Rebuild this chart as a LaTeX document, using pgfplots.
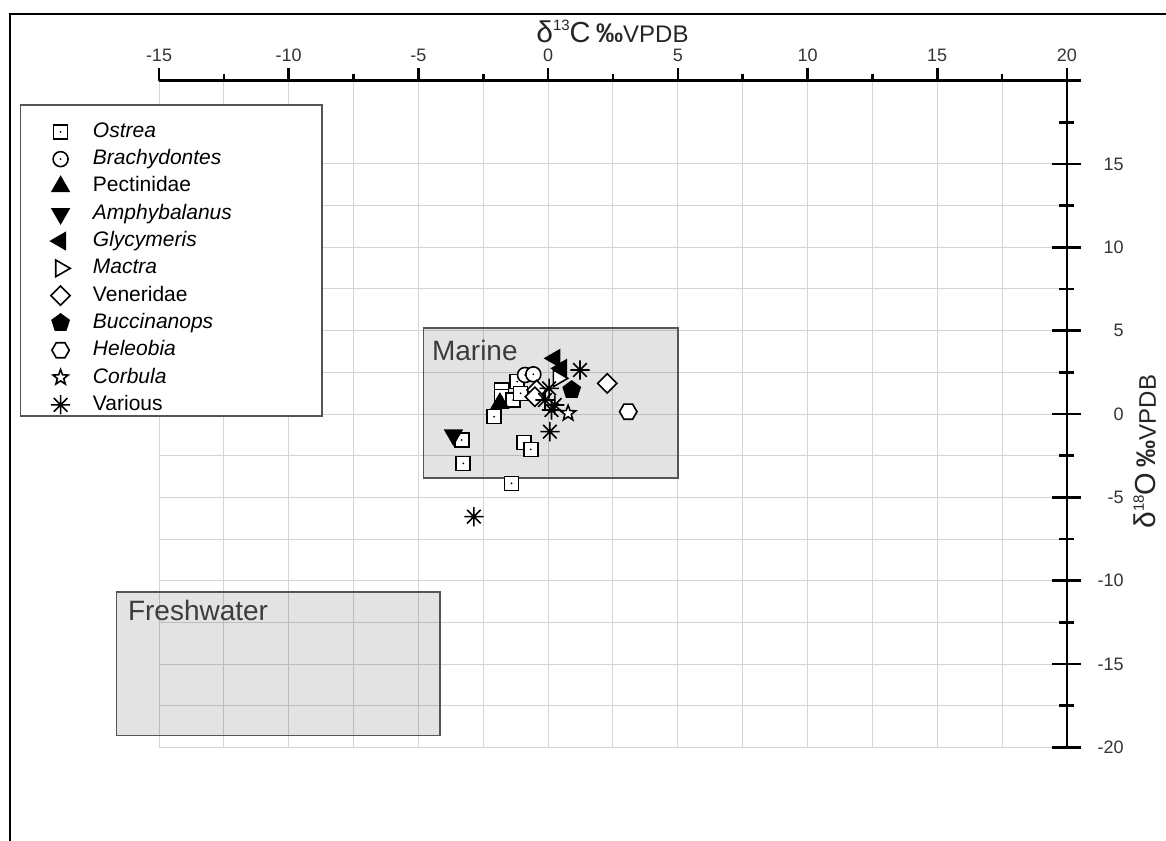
\documentclass[border=0pt]{standalone}
\usepackage{fontspec}
\setmainfont{Liberation Sans}
\usepackage{pgfplots}
\pgfplotsset{compat=1.18}
\usetikzlibrary{plotmarks}

% open square with a centre dot
\pgfdeclareplotmark{sqdot}{%
  \pgfpathrectangle{\pgfpoint{-\pgfplotmarksize}{-\pgfplotmarksize}}{\pgfpoint{2\pgfplotmarksize}{2\pgfplotmarksize}}%
  \pgfusepath{fill,stroke}%
  \begin{pgfscope}\pgfsetfillcolor{black}%
  \pgfpathcircle{\pgfpointorigin}{0.5pt}\pgfusepath{fill}\end{pgfscope}}
% open circle with a centre dot
\pgfdeclareplotmark{cdot}{%
  \pgfpathcircle{\pgfpointorigin}{\pgfplotmarksize}%
  \pgfusepath{fill,stroke}%
  \begin{pgfscope}\pgfsetfillcolor{black}%
  \pgfpathcircle{\pgfpointorigin}{0.5pt}\pgfusepath{fill}\end{pgfscope}}
% hexagon
\pgfdeclareplotmark{hexa}{%
  \pgfpathmoveto{\pgfpointpolar{0}{\pgfplotmarksize}}%
  \pgfpathlineto{\pgfpointpolar{60}{\pgfplotmarksize}}%
  \pgfpathlineto{\pgfpointpolar{120}{\pgfplotmarksize}}%
  \pgfpathlineto{\pgfpointpolar{180}{\pgfplotmarksize}}%
  \pgfpathlineto{\pgfpointpolar{240}{\pgfplotmarksize}}%
  \pgfpathlineto{\pgfpointpolar{300}{\pgfplotmarksize}}%
  \pgfpathclose\pgfusepath{fill,stroke}}
% five-pointed outline star
\pgfdeclareplotmark{ostar}{%
  \pgfpathmoveto{\pgfpointpolar{90}{\pgfplotmarksize}}%
  \pgfpathlineto{\pgfpointpolar{126}{0.42\pgfplotmarksize}}%
  \pgfpathlineto{\pgfpointpolar{162}{\pgfplotmarksize}}%
  \pgfpathlineto{\pgfpointpolar{198}{0.42\pgfplotmarksize}}%
  \pgfpathlineto{\pgfpointpolar{234}{\pgfplotmarksize}}%
  \pgfpathlineto{\pgfpointpolar{270}{0.42\pgfplotmarksize}}%
  \pgfpathlineto{\pgfpointpolar{306}{\pgfplotmarksize}}%
  \pgfpathlineto{\pgfpointpolar{342}{0.42\pgfplotmarksize}}%
  \pgfpathlineto{\pgfpointpolar{18}{\pgfplotmarksize}}%
  \pgfpathlineto{\pgfpointpolar{54}{0.42\pgfplotmarksize}}%
  \pgfpathclose\pgfusepath{fill,stroke}}
% eight-armed asterisk
\pgfdeclareplotmark{ast8}{%
  \pgfpathmoveto{\pgfpointpolar{0}{\pgfplotmarksize}}\pgfpathlineto{\pgfpointpolar{180}{\pgfplotmarksize}}%
  \pgfpathmoveto{\pgfpointpolar{45}{\pgfplotmarksize}}\pgfpathlineto{\pgfpointpolar{225}{\pgfplotmarksize}}%
  \pgfpathmoveto{\pgfpointpolar{90}{\pgfplotmarksize}}\pgfpathlineto{\pgfpointpolar{270}{\pgfplotmarksize}}%
  \pgfpathmoveto{\pgfpointpolar{135}{\pgfplotmarksize}}\pgfpathlineto{\pgfpointpolar{315}{\pgfplotmarksize}}%
  \pgfusepath{stroke}}

\definecolor{gridgray}{RGB}{212,212,212}
\definecolor{boxedge}{RGB}{85,85,85}
\definecolor{labelgray}{RGB}{60,60,60}

\pgfplotsset{
  openmk/.style={only marks, line width=0.8pt, mark options={solid, draw=black, fill=white, #1}},
  openmk/.default={},
  fullmk/.style={only marks, line width=0.8pt, mark options={solid, draw=black, fill=black, #1}},
  fullmk/.default={},
}

\begin{document}
\begin{tikzpicture}
\begin{axis}[
  x=12.97pt, y=8.335pt,
  xmin=-15, xmax=20, ymin=-20, ymax=20,
  axis x line=top, axis y line=right,
  axis line style={line width=1.4pt, -},
  xtick={-15,-10,-5,0,5,10,15,20},
  xticklabels={-15,-10,-5,0,5,10,15,20},
  ytick={-20,-15,-10,-5,0,5,10,15},
  yticklabels={-20,-15,-10,-5,0,5,10,15},
  minor tick num=1,
  tick align=outside,
  major tick length=6.5pt, minor tick length=3.5pt,
  x tick style={line width=1.3pt, black},
  y tick style={draw=none},
  grid=both,
  major grid style={line width=0.5pt, gridgray},
  minor grid style={line width=0.5pt, gridgray},
  clip=false,
  tick label style={font=\fontsize{9}{10}\selectfont, text=black!80},
  xticklabel style={anchor=south, inner sep=0pt, yshift=3pt},
  yticklabel style={anchor=east, inner sep=0pt, xshift=22pt},
  legend style={at={(axis description cs:-0.1203,0.9395)}, anchor=north west,
    draw=none, fill=none, inner sep=0pt, row sep=3.15pt,
    font=\fontsize{10.5}{12}\selectfont,
    nodes={inner xsep=11pt, inner ysep=0pt, text height=8pt, text depth=2.5pt}},
  legend cell align=left,
]
% legend frame
\draw[boxedge, line width=0.6pt, fill=white] (axis cs:-20.34,18.54) rectangle (axis cs:-8.72,-0.12);
% environment fields
\draw[boxedge, line width=0.75pt, fill=black, fill opacity=0.11] (axis cs:-4.8,5.15) rectangle (axis cs:5.0,-3.85);
\draw[boxedge, line width=0.75pt, fill=black, fill opacity=0.11] (axis cs:-16.63,-10.68) rectangle (axis cs:-4.17,-19.3);
\node[anchor=base west, inner sep=0pt, text=labelgray, font=\fontsize{14}{14}\selectfont] at (axis cs:-4.49,3.2) {Marine};
\node[anchor=base west, inner sep=0pt, text=labelgray, font=\fontsize{14}{14}\selectfont] at (axis cs:-16.21,-12.36) {Freshwater};

\addplot[openmk, mark=sqdot, mark size=3.5pt] coordinates {
  (-2.08,-0.16) (-3.33,-1.56) (-3.27,-2.96) (-1.41,-4.16) (-0.93,-1.72)
  (-0.67,-2.12) (-1.79,1.44) (-1.79,1.04) (-1.19,1.94) (-1.35,0.84) (-1.06,1.24)};
\addlegendentry{\textit{Ostrea}}
\addplot[openmk, mark=cdot, mark size=3.75pt] coordinates {
  (-0.89,2.34) (-0.57,2.38)};
\addlegendentry{\textit{Brachydontes}}
\addplot[fullmk, mark=triangle*, mark size=4.8pt] coordinates {
  (-1.86,0.64)};
\addlegendentry{Pectinidae}
\addplot[fullmk={rotate=180}, mark=triangle*, mark size=4.8pt] coordinates {
  (-3.65,-1.26)};
\addlegendentry{\textit{Amphybalanus}}
\addplot[fullmk={rotate=90}, mark=triangle*, mark size=4.8pt] coordinates {
  (0.26,3.34) (0.52,2.74)};
\addlegendentry{\textit{Glycymeris}}
\addplot[openmk={rotate=-90}, mark=triangle*, mark size=4.8pt] coordinates {
  (0.39,2.14)};
\addlegendentry{\textit{Mactra}}
\addplot[openmk={rotate=45}, mark=square*, mark size=3.4pt] coordinates {
  (-0.44,1.44) (-0.51,1.04) (2.28,1.84)};
\addlegendentry{Veneridae}
\addplot[fullmk, mark=pentagon*, mark size=4.45pt] coordinates {
  (0.91,1.44)};
\addlegendentry{\textit{Buccinanops}}
\addplot[openmk, mark=hexa, mark size=4.35pt] coordinates {
  (3.09,0.14)};
\addlegendentry{\textit{Heleobia}}
\addplot[openmk, mark=ostar, mark size=4pt] coordinates {
  (0.77,0.04)};
\addlegendentry{\textit{Corbula}}
\addplot[fullmk, mark=ast8, mark size=4.8pt] coordinates {
  (1.23,2.64) (0.04,1.54) (-0.12,0.84) (0.26,0.54) (0.13,0.24) (0.07,-1.06) (-2.86,-6.16)};
\addlegendentry{Various}

% right-hand axis ticks, centred on the axis line
\pgfplotsinvokeforeach{-20,-15,-10,-5,0,5,10,15,20}{
  \draw[line width=1.3pt] ([xshift=-7.25pt]axis cs:20,#1) -- ([xshift=7.25pt]axis cs:20,#1);}
\pgfplotsinvokeforeach{-17.5,-12.5,-7.5,-2.5,2.5,7.5,12.5,17.5}{
  \draw[line width=1.3pt] ([xshift=-3.75pt]axis cs:20,#1) -- ([xshift=3.75pt]axis cs:20,#1);}

% axis titles
\node[anchor=base west, inner sep=0pt, text=black!85] at (axis cs:-0.47,22.26)
  {{\fontsize{15}{15}\selectfont δ}\raisebox{6pt}{\fontsize{7.5}{8}\selectfont 13}{\fontsize{14.5}{15}\selectfont C}\ {\fontsize{13.5}{14}\selectfont\bfseries ‰}{\fontsize{12}{12}\selectfont VPDB}};
\node[rotate=90, anchor=base west, inner sep=0pt, text=black!85] at (axis cs:23.43,-6.9)
  {{\fontsize{15}{15}\selectfont δ}\raisebox{6pt}{\fontsize{7.5}{8}\selectfont 18}{\fontsize{14.5}{15}\selectfont O}\ {\fontsize{13.5}{14}\selectfont\bfseries ‰}{\fontsize{12}{12}\selectfont VPDB}};

% page frame
\draw[line width=1pt] (axis cs:-20.75,-25.61) -- (axis cs:-20.75,24.0) -- (axis cs:23.82,24.0);
\coordinate (bbtl) at (axis cs:-21.13,24.835);
\coordinate (bbbr) at (axis cs:23.82,-25.61);
\end{axis}
\pgfresetboundingbox
\path[use as bounding box] (bbtl) rectangle (bbbr);
\end{tikzpicture}
\end{document}
